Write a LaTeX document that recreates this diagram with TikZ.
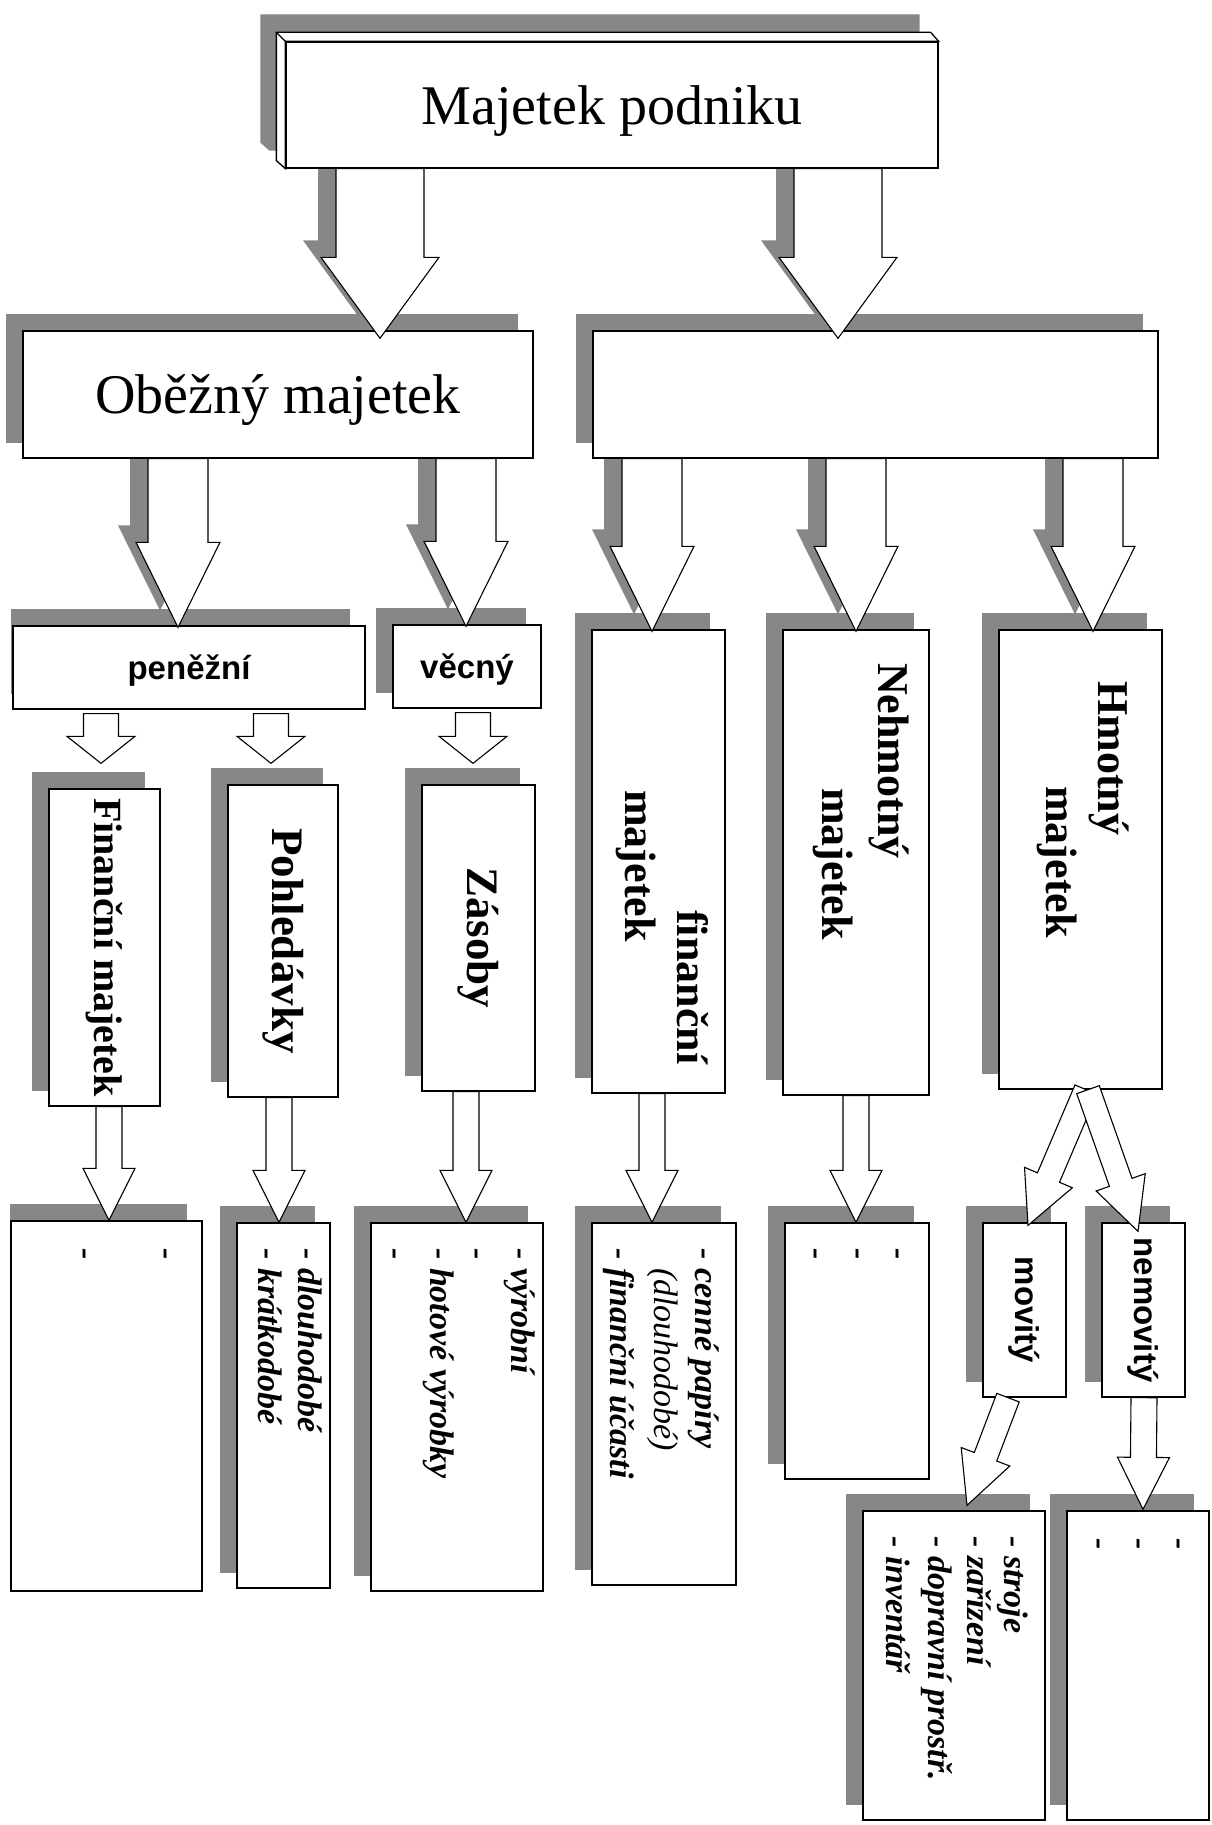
\documentclass[tikz,border=0pt]{standalone}
\usepackage{fontspec}
\setmainfont{Liberation Serif}
\newfontfamily\labelsans{Liberation Sans}
\usepackage{graphicx}
\usetikzlibrary{calc}

\definecolor{shadegray}{RGB}{135,135,135}
\pgfdeclarelayer{bg}
\pgfsetlayers{bg,main}

\tikzset{
  box/.style={draw, fill=white, line width=1.3pt, inner sep=0pt},
  boxsize/.style 2 args={minimum width=#1pt, minimum height=#2pt},
  shadowfill/.style={fill=shadegray, draw=none},
  arrowbody/.style={draw, fill=white, line width=1.1pt, line join=miter},
  bigtext/.style={font=\fontsize{56}{60}\selectfont, text depth=0pt},
  flatsans/.style={font=\fontsize{33}{38}\labelsans\bfseries, text depth=0pt},
  tall/.style={rotate=-90, anchor=base west, inner sep=0pt, font=\fontsize{44}{50}\selectfont\bfseries},
  item/.style={rotate=-90, anchor=base west, inner sep=0pt, font=\fontsize{34}{40}\selectfont\bfseries\itshape}
}

% gray shadow up and left of a box
\newcommand{\boxshadow}[2][-16]{%
  \begin{pgfonlayer}{bg}
    \fill[shadowfill] ($(#2.north west)+(#1,-16)$) rectangle ($(#2.south east)+(-16,-16)$);
  \end{pgfonlayer}}

% hollow block arrow from (#2) to tip (#3)
\newcommand{\blockarrow}[6][arrowbody]{%
  \path ($(#3)!#6!(#2)$) coordinate (hb);
  \path[#1] ($(#2)!#4!90:(#3)$) -- ($(hb)!#4!90:(#3)$) -- ($(hb)!#5!90:(#3)$) -- (#3)
    -- ($(hb)!#5!-90:(#3)$) -- ($(hb)!#4!-90:(#3)$) -- ($(#2)!#4!-90:(#3)$) -- cycle;}

% ends of an arrow: source, x, shift, target, x, shift
\newcommand{\arrowends}[6]{%
  \path ($(#2,0 |- #1.south)+(0,#3)$) coordinate (as)
        ($(#5,0 |- #4.north)+(0,#6)$) coordinate (at);}

\newcommand{\shadedarrow}[3]{%
  \begin{pgfonlayer}{bg}
    \path ($(as)+(-18,-17)$) coordinate (ss) ($(at)+(-18,-17)$) coordinate (st);
    \blockarrow[shadowfill]{ss}{st}{#1}{#2}{#3}
  \end{pgfonlayer}
  \blockarrow{as}{at}{#1}{#2}{#3}}

\begin{document}
\begin{tikzpicture}[x=1pt,y=-1pt]
  \begin{pgfonlayer}{bg}
    \fill[white] (0,0) rectangle (1211,1825);
  \end{pgfonlayer}
  \useasboundingbox (0,0) rectangle (1211,1825);

  % top
  \node[box, boxsize={652}{126}, bigtext] (top) at (612,105) {Majetek podniku};
  \draw[box] ($(top.north west)+(-9,-9)$) -- ($(top.north east)+(-8,-9)$) -- (top.north east)
    -- (top.north west) -- (top.south west) -- ($(top.south west)+(-9,-8)$) -- cycle;
  \draw[line width=1.3pt] ($(top.north west)+(-9,-9)$) -- (top.north west);
  \begin{pgfonlayer}{bg}
    \fill[shadowfill] ($(top.north west)+(-25,-27)$) -- ($(top.north east)+(-19,-27)$)
      -- ($(top.south east)+(-19,-18)$) -- ($(top.south west)+(-16,-18)$)
      -- ($(top.south west)+(-25,-26)$) -- cycle;
  \end{pgfonlayer}

  % second row
  \node[box, boxsize={510}{127}, bigtext] (obez) at (278,394.5) {Oběžný majetek};
  \node[box, boxsize={565}{127}] (dlouh) at (875.5,394.5) {};
  \boxshadow{obez}
  \boxshadow{dlouh}

  % third row
  \node[box, boxsize={352}{83}, flatsans] (pen) at (189,667.5) {peněžní};
  \node[box, boxsize={148}{83}, flatsans] (vec) at (467,666.5) {věcný};
  \node[box, boxsize={133}{463}] (fin) at (658.5,861.5) {};
  \node[box, boxsize={146}{465}] (nehm) at (856,862.5) {};
  \node[box, boxsize={163}{459}] (hmot) at (1080.5,859.5) {};
  \boxshadow[-1]{pen}
  \boxshadow{vec}
  \boxshadow{fin}
  \boxshadow{nehm}
  \boxshadow{hmot}

  \node[tall] (fin1) at (677,910) {finanční};
  \node[tall] (fin2) at (625,790) {majetek};
  \node[tall] (nehm1) at (878,663) {Nehmotný};
  \node[tall] (nehm2) at (822,788) {majetek};
  \node[tall] (hmot1) at (1098,681) {Hmotný};
  \node[tall] (hmot2) at (1046,786) {majetek};

  % fourth row
  \node[box, boxsize={111}{317}, font=\fontsize{40}{46}\selectfont\bfseries] (finm) at (104.5,947.5) {\rotatebox{-90}{Finanční majetek}};
  \node[box, boxsize={110}{312}, font=\fontsize{45}{50}\selectfont\bfseries] (pohl) at (283,941) {\rotatebox{-90}{Pohledávky}};
  \node[box, boxsize={113}{306}, font=\fontsize{45}{50}\selectfont\bfseries] (zas) at (478.5,938) {\rotatebox{-90}{Zásoby}};
  \boxshadow{finm}
  \boxshadow{pohl}
  \boxshadow{zas}

  % lists
  \node[box, boxsize={191}{370}] (l5a) at (106.5,1406) {};
  \node[box, boxsize={93}{365}] (l5b) at (283.5,1405.5) {};
  \node[box, boxsize={172}{368}] (l5c) at (457,1407) {};
  \node[box, boxsize={144}{362}] (l5d) at (664,1404) {};
  \node[box, boxsize={144}{256}] (l5e) at (857,1351) {};
  \node[box, boxsize={83}{174}, font=\fontsize{33}{38}\labelsans\bfseries] (mov) at (1024.5,1310) {\rotatebox{-90}{movitý}};
  \node[box, boxsize={83}{174}, font=\fontsize{33}{38}\labelsans\bfseries] (nemov) at (1143.5,1310) {\rotatebox{-90}{nemovitý}};
  \node[box, boxsize={182}{309}] (l6a) at (954,1665.5) {};
  \node[box, boxsize={142}{309}] (l6b) at (1138,1665.5) {};
  \boxshadow[0]{l5a}
  \boxshadow{l5b}
  \boxshadow{l5c}
  \boxshadow{l5d}
  \boxshadow{l5e}
  \boxshadow{mov}
  \boxshadow{nemov}
  \boxshadow{l6a}
  \boxshadow{l6b}

  \node[item] (l5a1) at (157,1248) {-};
  \node[item] (l5a2) at (76,1248) {-};
  \node[item] (l5b1) at (298,1248) {- dlouhodobé};
  \node[item] (l5b2) at (258,1248) {- krátkodobé};
  \node[item] (l5c1) at (511,1248) {- výrobní};
  \node[item] (l5c2) at (468,1248) {-};
  \node[item] (l5c3) at (430,1248) {- hotové výrobky};
  \node[item] (l5c4) at (386,1248) {-};
  \node[item] (l5d1) at (695,1248) {- cenné papíry};
  \node[item] (l5d2) at (654,1248) {\hphantom{- }\mdseries(dlouhodobé)};
  \node[item] (l5d3) at (610,1248) {- finanční účasti};
  \node[item] (l5e1) at (889,1248) {-};
  \node[item] (l5e2) at (849,1248) {-};
  \node[item] (l5e3) at (807,1248) {-};
  \node[item] (l6a1) at (1004,1536) {- stroje};
  \node[item] (l6a2) at (967,1536) {- zařízení};
  \node[item] (l6a3) at (928,1536) {- dopravní prostř.};
  \node[item] (l6a4) at (886,1536) {- inventář};
  \node[item] (l6b1) at (1170,1538) {-};
  \node[item] (l6b2) at (1130,1538) {-};
  \node[item] (l6b3) at (1090,1538) {-};

  % arrows
  \arrowends{top}{380}{0}{obez}{380}{8}      \shadedarrow{44pt}{59pt}{81pt}
  \arrowends{top}{838}{0}{dlouh}{838}{8}     \shadedarrow{44pt}{59pt}{81pt}
  \arrowends{obez}{178}{0}{pen}{178}{2}      \shadedarrow{30pt}{42pt}{85pt}
  \arrowends{obez}{466}{0}{vec}{466}{2}      \shadedarrow{30pt}{42pt}{85pt}
  \arrowends{dlouh}{652}{0}{fin}{652}{2}     \shadedarrow{30pt}{42pt}{85pt}
  \arrowends{dlouh}{856}{0}{nehm}{856}{2}    \shadedarrow{30pt}{42pt}{85pt}
  \arrowends{dlouh}{1093}{0}{hmot}{1093}{2}  \shadedarrow{30pt}{42pt}{85pt}

  \arrowends{pen}{101}{4}{finm}{101}{-25}    \blockarrow{as}{at}{17.5pt}{34pt}{27pt}
  \arrowends{pen}{271}{4}{pohl}{271}{-21}    \blockarrow{as}{at}{17.5pt}{34pt}{27pt}
  \arrowends{vec}{473}{4}{zas}{473}{-21}     \blockarrow{as}{at}{17.5pt}{34pt}{27pt}

  \arrowends{finm}{109}{0}{l5a}{109}{0}      \blockarrow{as}{at}{13pt}{26pt}{52pt}
  \arrowends{pohl}{279}{0}{l5b}{279}{0}      \blockarrow{as}{at}{13pt}{26pt}{52pt}
  \arrowends{zas}{466}{0}{l5c}{466}{0}       \blockarrow{as}{at}{13pt}{26pt}{52pt}
  \arrowends{fin}{652}{0}{l5d}{652}{0}       \blockarrow{as}{at}{13pt}{26pt}{52pt}
  \arrowends{nehm}{856}{0}{l5e}{856}{0}      \blockarrow{as}{at}{13pt}{26pt}{52pt}
  \arrowends{hmot}{1086}{0}{mov}{1028}{3}    \blockarrow{as}{at}{12pt}{26pt}{52pt}
  \arrowends{hmot}{1088}{0}{nemov}{1138}{9}  \blockarrow{as}{at}{12pt}{26pt}{52pt}
  \arrowends{mov}{1008}{0}{l6a}{967}{-5}     \blockarrow{as}{at}{12pt}{26pt}{52pt}
  \arrowends{nemov}{1144}{0}{l6b}{1143}{-1}  \blockarrow{as}{at}{13pt}{26pt}{52pt}
\end{tikzpicture}
\end{document}
